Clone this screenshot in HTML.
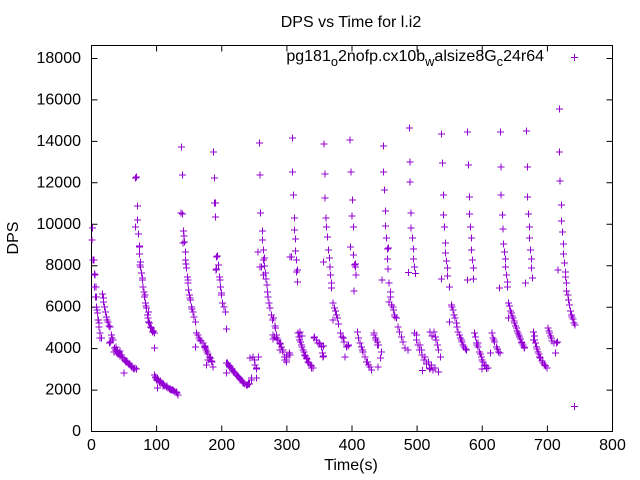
<!DOCTYPE html>
<html><head><meta charset="utf-8"><style>html,body{margin:0;padding:0;background:#fff}svg{display:block}</style></head>
<body>
<svg width="640" height="480" viewBox="0 0 640 480" xmlns="http://www.w3.org/2000/svg" font-family="'Liberation Sans', Arial, sans-serif" font-size="16" fill="#000">
<rect width="640" height="480" fill="#fff"/>
<defs>
<marker id="p" markerUnits="userSpaceOnUse" markerWidth="9" markerHeight="9" refX="4.5" refY="4.5" viewBox="0 0 9 9" overflow="visible">
<path d="M1 4.5h7M4.5 1v7" stroke="#9400d3" stroke-width="1" fill="none" shape-rendering="crispEdges"/>
</marker>
</defs>
<g stroke="#000" stroke-width="1" fill="none">
<rect x="91.5" y="45.5" width="521" height="386"/>
<path d="M91.5 431.5h6M91.5 390.1h6M91.5 348.6h6M91.5 307.2h6M91.5 265.7h6M91.5 224.3h6M91.5 182.8h6M91.5 141.4h6M91.5 99.9h6M91.5 58.5h6
M612.5 431.5h-6M612.5 390.1h-6M612.5 348.6h-6M612.5 307.2h-6M612.5 265.7h-6M612.5 224.3h-6M612.5 182.8h-6M612.5 141.4h-6M612.5 99.9h-6M612.5 58.5h-6
M91.5 431.5v-6M156.6 431.5v-6M221.75 431.5v-6M286.9 431.5v-6M352 431.5v-6M417.1 431.5v-6M482.25 431.5v-6M547.4 431.5v-6M612.5 431.5v-6
M91.5 45.5v6M156.6 45.5v6M221.75 45.5v6M286.9 45.5v6M352 45.5v6M417.1 45.5v6M482.25 45.5v6M547.4 45.5v6M612.5 45.5v6"/>
</g>
<g text-anchor="end">
<text x="81" y="436">0</text>
<text x="81" y="394.6">2000</text>
<text x="81" y="353.1">4000</text>
<text x="81" y="311.7">6000</text>
<text x="81" y="270.2">8000</text>
<text x="81" y="228.8">10000</text>
<text x="81" y="187.3">12000</text>
<text x="81" y="145.9">14000</text>
<text x="81" y="104.4">16000</text>
<text x="81" y="63">18000</text>
</g>
<g text-anchor="middle">
<text x="91.5" y="450">0</text>
<text x="156.6" y="450">100</text>
<text x="221.75" y="450">200</text>
<text x="286.9" y="450">300</text>
<text x="352" y="450">400</text>
<text x="417.1" y="450">500</text>
<text x="482.25" y="450">600</text>
<text x="547.4" y="450">700</text>
<text x="612.5" y="450">800</text>
<text x="351" y="470">Time(s)</text>
<text x="351" y="27">DPS vs Time for l.i2</text>
<text transform="translate(18,238) rotate(-90)">DPS</text>
</g>
<text x="544" y="61" text-anchor="end">pg181<tspan font-size="12.8" dy="5">o</tspan><tspan dy="-5">2nofp.cx10b</tspan><tspan font-size="12.8" dy="5">w</tspan><tspan dy="-5">alsize8G</tspan><tspan font-size="12.8" dy="5">c</tspan><tspan dy="-5">24r64</tspan></text>
<g fill="none" stroke="none" marker-start="url(#p)" marker-mid="url(#p)" marker-end="url(#p)">
<polyline points="574.3,57.3 574.3,57.3"/>
<polyline points="92.5,228 92,240 93,260 94,260 94.5,274 95,275 94.7,287 96,287 95.3,297 96.7,297 96.3,307 97,310 97.3,313 98,320 98.3,320 99,323 99,327 100,333 100,338 101.3,338"/>
<polyline points="102.7,294 103.3,298 103.5,302 104.7,307 105.3,312 106.3,317 107,320 108,322 109,326 110,327 111.3,335 112,338 110.7,342 113,340 109.7,343"/>
<polyline points="114.7,348 115.5,350 116.3,352 117.5,352 118,354 119.7,353 120,356 121.3,355 122,357 123,358 124.7,360 125.5,361 126,362 127,361 128,363 129,364 130,365 131.3,367 132,366 133,368 134,369 135,368 136.5,369 124,373 114,352 116,347 120,351"/>
<polyline points="135.3,178 136.3,177 137.3,206 137.3,220 135.3,227 138.7,234 139.3,246 139.7,247 139.7,254 140,265 140.7,262 140.7,267 141.3,273 142.3,278 142.7,280 143,287 144,292 144.7,297 145,295 145.3,303 146,306 146.3,308 147.3,315 148,318 148.3,312 148.7,322 149.5,323 150.7,327 151.7,328 152.3,332 153.5,331 154.7,333 154.7,348"/>
<polyline points="154.7,375 155.5,377 156.3,380 157.5,379 158,381 159.7,382 160.5,381 161,383 162,383 163,384 164,385 165,386 166.3,387 167,386 168,388 169.7,389 170.5,389 171,390 172,390 173,390 174,391 175,392 176.3,392 177,393 178,395 157.3,388 156,378 163,386 158,380"/>
<polyline points="181.7,147 182.3,175 181,213 182.7,214 183.7,231 184,236 183,243 184.7,242 185.3,252 185.7,260 186,264 186.3,268 187.3,277 187.8,280 188,283 188.7,290 189.7,295 190,298 190.7,300 191.3,307 192,309 193,312 194,317 195.3,322 196.3,333 198,335 195.3,347"/>
<polyline points="199,338 200,340 201,341 203,343 204.7,347 205.5,348 206,350 207,352 208,354 209.7,357 208,360 206.3,365 210.5,358 211.5,361 212,362 213,367 205,346"/>
<polyline points="213.3,152 214.3,178 214.7,178 214.3,203 215.7,203 215.7,217 216.7,257 217.3,256 216,270 216.3,269 218.3,265 219.7,277 220,280 220.7,287 221.3,293 221.7,295 222.7,303 224,307 225.3,312 226.7,329"/>
<polyline points="226.7,363 227.3,363 228.5,365 229.7,367 231,368 232,369 233,371 234,372 235,373 236.3,375 237.5,376 238.5,377 239.7,378 241,380 242,381 243,383 244,383 245,384 246.3,385 247.5,385 248.5,384 249.7,384 226.3,373 251.3,378 251.7,380 230,366 240,379"/>
<polyline points="250,358 253,357 254.7,360 255,365 256.3,368 256.7,369 258.5,357 256.7,378"/>
<polyline points="259.3,143 260,175 260.7,213 262.3,231 262.3,240 263.7,250 258,252 264.7,258 263.3,260 261.3,267 260,267 264.7,266 265.7,273 263.3,275 266,279 267,285 267.3,292 268,297 269,303 270,308 271.3,315 272.3,320 273.3,318 275,326 275.3,328"/>
<polyline points="273,335 273,339 274.7,337 276.3,335 277,338 278,340 279.7,343 280.5,344 281.3,347 282.3,350 283,350 283,352 284.7,357 286.3,357 286.3,360 286.3,362 288,355 289.7,353 290,355 285,360 280,350"/>
<polyline points="292.3,138 292.3,172 293.3,195 294.3,218 294.3,230 295.3,239 295.3,251 291.3,257 296.3,260 296.7,260 297.3,270 296.7,272 297.3,282 290,257"/>
<polyline points="298,333 299,337 299.7,340 300.5,342 301.3,345 302,347 303,350 304,352 304.7,355 305.5,356 306.3,358 307,359 308,362 309,363 310.7,365 311.5,366 313,368 311.7,368 300,332 302,336"/>
<polyline points="314,338 314.7,337 316.3,340 318,343 319.7,343 320,344 321.3,347 322.3,353 323,357 323.3,346 323.3,356"/>
<polyline points="324,144 325,174 325,198 326,218 326.7,227 327.3,237 328.3,250 329.5,258 323.3,262 330,267 330.7,275 331.5,283 331.7,288"/>
<polyline points="333,303 334.7,308 335.5,311 336.7,315 337.3,318 333,320 338.5,324 340.3,333 341.8,337 343.3,338 344,342 346.5,347 348.5,345 344.8,357"/>
<polyline points="350,140 351,172 352.3,200 352.2,216 353.3,227 350.7,247 353.7,255 355.3,264 354.3,265 355.3,267 356.2,275 354,291"/>
<polyline points="357.3,332 358.5,338 359.8,343 361.3,347 362.7,350 363,352 364.8,357 366.3,362 367.3,362 368.7,365 370,367 371.5,370 348,346"/>
<polyline points="374,333 374,335 375.3,338 376,340 377.3,342 377.3,345 378.7,345 381.3,352 380.7,358 378.2,367"/>
<polyline points="383.3,146 383.7,172 384.5,190 385.5,211 385.5,226 386.3,238 387.3,249 388.3,248 387.3,259 388,269 381.8,280 389,283 390.3,292 390.7,297"/>
<polyline points="389,302 391.7,305 393,307 393.3,310 394.7,315 395,317 396.3,318 398,327 399.7,332 401.5,337 403,342 404.8,348 407.8,350"/>
<polyline points="409.3,128 410.2,162 410.2,182 411.2,213 411.2,228 412.3,238 413.3,249 413.3,259 414.3,267 408.3,272.5 415.3,273.5"/>
<polyline points="414.7,333 416.3,340 416.7,335 418,345 419.7,350 420,345 421.7,350 422,355 424,360 425,357 426.3,364 428.3,362 429.7,368 431.7,365 433,370 435,368 438.3,372 422.5,370.5 430,369"/>
<polyline points="434,332 435.3,337 437.3,345 438.7,350 440.7,357 430,332 432,336 436,340"/>
<polyline points="441.7,134 442.3,163 443.3,195 443.3,215 444.3,227 445.3,243 445.3,253 446.3,261 447.3,268 447.3,276 441.3,279 449.3,287"/>
<polyline points="451.3,305 452,307 453,310 454,315 449.7,322 455,318 456.3,323 457,327 458,332 459.7,335 460.5,338 461.3,340 462,342 463,345 464,347 465.3,349 466.7,350"/>
<polyline points="467.3,132 468.3,165 469.3,197 469.3,214 470.5,227 471.3,238 471.3,250 472.3,260 473.3,268 467.3,280 473.5,279"/>
<polyline points="474.7,333 475.5,337 476.3,343 477,345 478,347 479.7,352 480.5,354 481.3,357 482,360 483,362 484.7,365 486,366 488,368 482,369 478,343 486.5,368.5"/>
<polyline points="492,333 493,338 494,340 494.7,342 496.3,347 497.5,349 498.7,352 490.7,353 500,353"/>
<polyline points="500.3,132 501.2,167 501.2,195 502.3,215 503,229 503.7,244 504.7,252 505.7,259 505.7,267 506.3,275 507.3,282 507.3,287 499.3,288"/>
<polyline points="508.7,303 509.5,306 510.5,311 511.3,313 508.7,318 512,316 513,318 514,321 514.7,323 515.5,326 516.3,328 517,331 518,333 519,335 519.7,337 520.5,339 521.3,342 522,343 523,345 524,347 524.7,348"/>
<polyline points="526.3,131 527.3,167 527.3,197 528.5,214 529.7,227 529.7,238 530.7,250 531.3,259 531.3,268 532.3,278 525.7,283"/>
<polyline points="533.7,332 534.7,336 534.7,340 535.5,343 536.3,347 537,349 538,352 539,354 539.7,357 540.5,358 542,361 543,363 544.7,365 545.5,366 547,368 533.3,340"/>
<polyline points="548,328 549,331 549.7,333 550.5,336 551.3,338 552,341 554,343 556.3,343 555.3,353 557.5,342"/>
<polyline points="559.3,109 559.3,152 560.2,181 561.3,205 561.3,221 562.3,232 563.3,244 563.3,254 564.7,263 558.2,270 565.3,272 565.3,277 566.3,283 566.3,291 568,295 568.7,300 569.7,305 570.7,311 571.3,315 572,317 573,319 574,323 575,325"/>
<polyline points="574.3,406.7 574.3,406.7"/>
</g>
</svg>
</body></html>
